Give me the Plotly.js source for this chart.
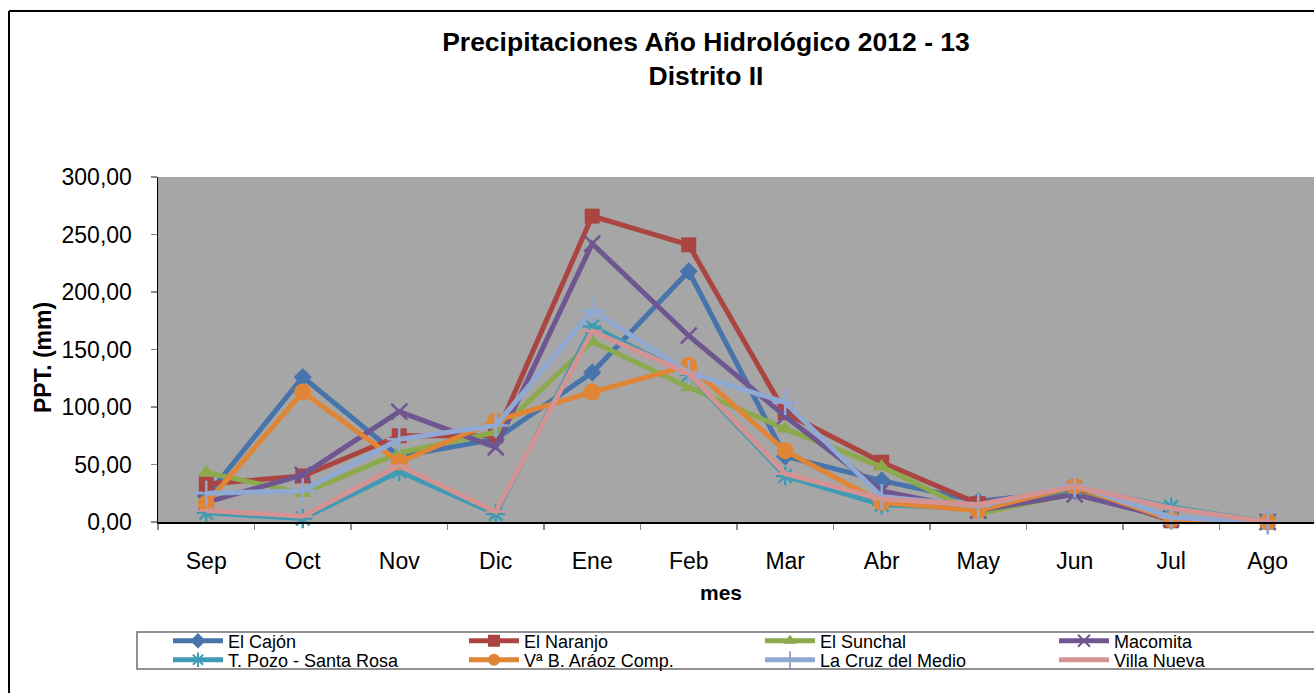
<!DOCTYPE html>
<html>
<head>
<meta charset="utf-8">
<script src="https://cdn.plot.ly/plotly-3.0.1.min.js"></script>
<style>html,body{margin:0;padding:0;background:#fff;}#chart{width:1314px;height:693px;}</style>
</head>
<body>
<div id="chart"></div>
<script>
const months = ["Sep","Oct","Nov","Dic","Ene","Feb","Mar","Abr","May","Jun","Jul","Ago"];
const seriesNames = ["El Cajón","El Naranjo","El Sunchal","Macomita","T. Pozo - Santa Rosa","Vª B. Aráoz Comp.","La Cruz del Medio","Villa Nueva"];
const elCajon     = [22, 126, 57, 72, 130, 218, 57, 36, 18, 27, 2, 0];
const elNaranjo   = [33, 40, 75, 75, 266, 241, 95, 52, 16, 29, 1, 0];
const elSunchal   = [43, 25, 60, 78, 157, 117, 81, 48, 7, 25, 3, 0];
const macomita    = [17, 41, 96, 65, 242, 162, 92, 27, 10, 24, 3, 0];
const tPozo       = [8, 3, 44, 7, 170, 128, 40, 15, 12, 30, 13, 0];
const araoz       = [16, 113, 52, 88, 113, 136, 62, 17, 10, 31, 2, 0];
const laCruz      = [25, 27, 72, 84, 184, 130, 104, 22, 14, 32, 4, 0];
const villaNueva  = [10, 5, 49, 9, 166, 129, 42, 20, 15, 31, 12, 0];
const yTicks = [0, 50, 100, 150, 200, 250, 300];
const titleText = "Precipitaciones Año Hidrológico 2012 - 13<br>Distrito II";
const xTitle = "mes";
const yTitle = "PPT. (mm)";

const values = [elCajon, elNaranjo, elSunchal, macomita, tPozo, araoz, laCruz, villaNueva];
const colors = ["#4674AB","#AB4542","#8CAA4C","#6F5691","#3F9BB3","#E08436","#8FA9D2","#D39393"];
const symbols = ["diamond","square","triangle-up","x-thin-open","asterisk-open","circle","cross-thin-open","line-ew-open"];
const sizes = [14, 15, 15, 16, 16, 17, 18, 14];

const FONT = "Liberation Sans, Arial, sans-serif";
const pl = 158, pt = 177, pb = 171, W = 1314, H = 693;
const pw = W - pl, ph = H - pt - pb;
const px = (x) => (x - pl) / pw;
const py = (y) => (H - pb - y) / ph;

const legendIds = values.map((v, i) => i === 0 ? "legend" : "legend" + (i + 1));
const legendColX = [168, 464, 760, 1054];
const legendRowY = [641, 660];

const traces = values.map((v, i) => ({
  type: "scatter",
  mode: "lines+markers",
  name: seriesNames[i],
  legend: legendIds[i],
  x: months,
  y: v,
  cliponaxis: false,
  line: {color: colors[i], width: 5},
  marker: {symbol: symbols[i], size: sizes[i], color: colors[i],
           line: {color: colors[i], width: (symbols[i].indexOf("open") >= 0 ? 2.5 : 0)}},
  hoverinfo: "skip"
}));

const layout = {
  width: W, height: H,
  margin: {l: pl, r: 0, t: pt, b: pb, autoexpand: false},
  paper_bgcolor: "#ffffff",
  plot_bgcolor: "#A6A6A6",
  font: {family: FONT, color: "#000"},
  separators: ",.",
  showlegend: true,
  title: {
    text: "<b>" + titleText + "</b>",
    font: {family: FONT, size: 26.5, color: "#000"},
    x: px(706), xref: "paper", xanchor: "center",
    y: 1 - 51 / H, yref: "container", yanchor: "top"
  },
  xaxis: {
    type: "category",
    range: [-0.5, 11.48],
    showgrid: false, zeroline: false,
    showline: true, linecolor: "#000", linewidth: 1.5,
    ticks: "outside", tickson: "boundaries", ticklen: 6, tickcolor: "#8a8a8a", tickwidth: 1.5,
    ticklabelstandoff: 18,
    tickfont: {family: FONT, size: 23, color: "#000"}
  },
  yaxis: {
    range: [0, 300],
    tickvals: yTicks,
    tickformat: ".2f",
    showgrid: false, zeroline: false,
    showline: true, linecolor: "#000", linewidth: 1.5,
    ticks: "outside", ticklen: 6, tickcolor: "#8a8a8a", tickwidth: 1.5,
    ticklabelstandoff: 14,
    tickfont: {family: FONT, size: 23, color: "#000"}
  },
  annotations: [
    {text: "<b>" + xTitle + "</b>", xref: "paper", yref: "paper", x: px(721), y: py(592),
     xanchor: "center", yanchor: "middle", showarrow: false, font: {family: FONT, size: 21, color: "#000"}},
    {text: "<b>" + yTitle + "</b>", xref: "paper", yref: "paper", x: px(43), y: py(358),
     xanchor: "center", yanchor: "middle", textangle: -90, showarrow: false, font: {family: FONT, size: 23, color: "#000"}}
  ],
  shapes: [
    {type: "line", xref: "paper", yref: "paper", x0: px(9), x1: px(9), y0: py(11), y1: py(H + 5), line: {color: "#000", width: 2}},
    {type: "line", xref: "paper", yref: "paper", x0: px(9), x1: px(W + 5), y0: py(11), y1: py(11), line: {color: "#000", width: 2}},
    {type: "rect", xref: "paper", yref: "paper", x0: px(137), x1: px(W + 10), y0: py(632), y1: py(669), line: {color: "#6e6e6e", width: 1.5}}
  ]
};

legendIds.forEach((id, i) => {
  layout[id] = {
    orientation: "h",
    x: px(legendColX[i % 4]), xanchor: "left",
    y: py(legendRowY[Math.floor(i / 4)]), yanchor: "middle",
    bgcolor: "rgba(0,0,0,0)",
    borderwidth: 0,
    itemwidth: 50,
    itemsizing: "constant",
    font: {family: FONT, size: 18, color: "#000"}
  };
});

Plotly.newPlot("chart", traces, layout, {displayModeBar: false, staticPlot: true});
</script>
</body>
</html>
